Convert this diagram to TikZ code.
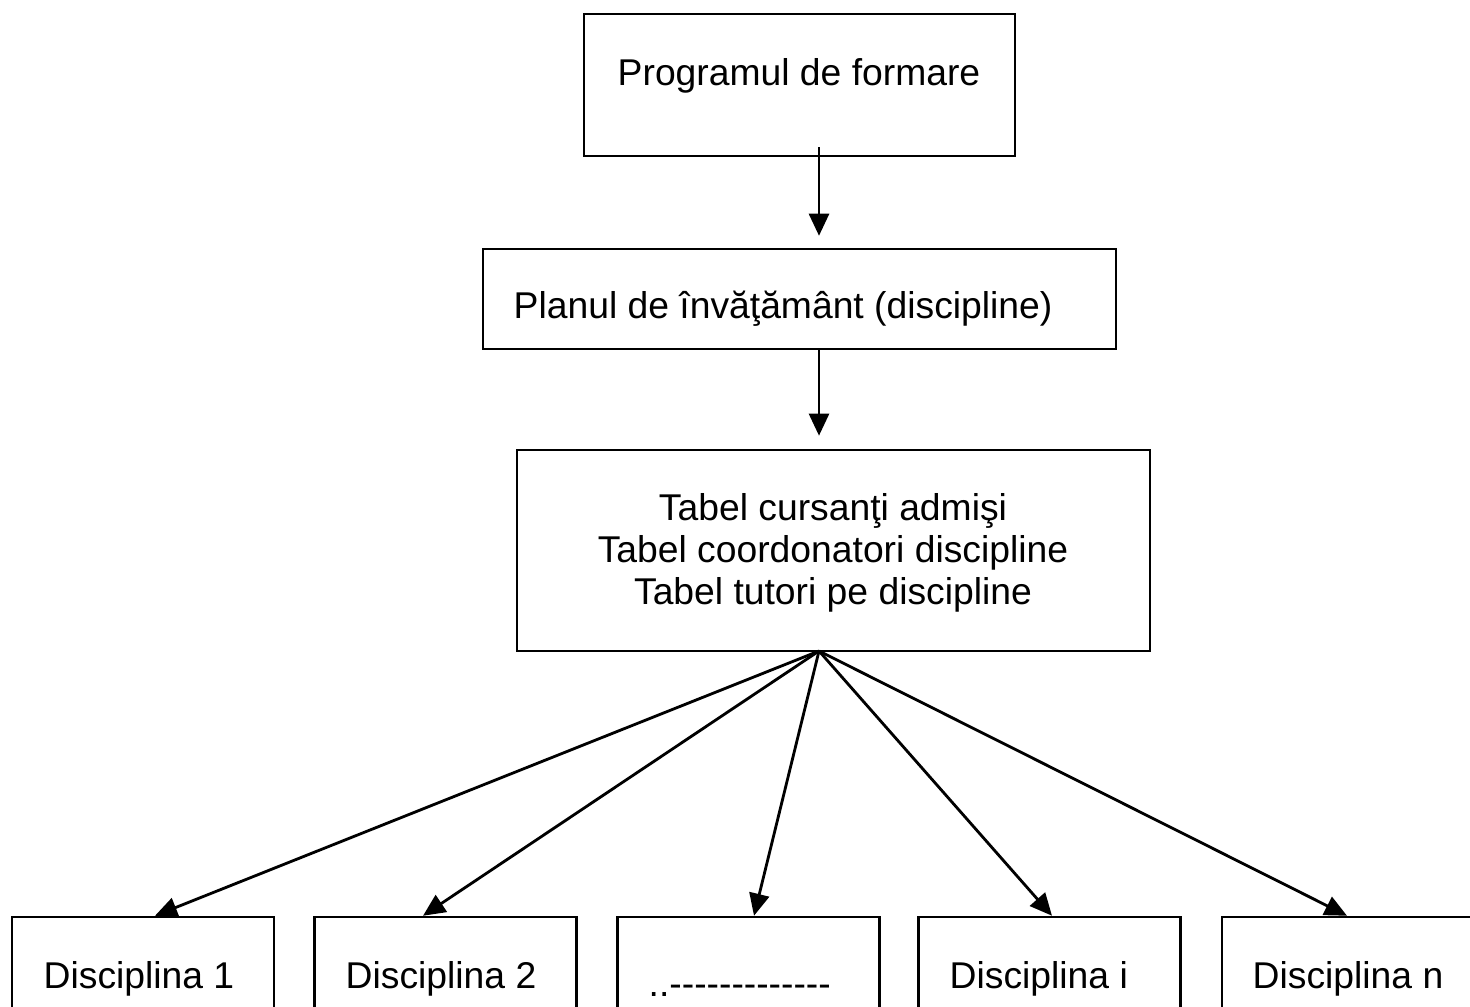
\documentclass[tikz,border=0pt]{standalone}
\usepackage{fontspec}
\setmainfont{Liberation Sans}
\usetikzlibrary{arrows.meta}

\begin{document}
\begin{tikzpicture}[x=0.01cm, y=-0.01cm,
    box/.style={draw, line width=0.7pt, inner sep=0pt},
    lbl/.style={inner sep=0pt, font=\fontsize{10.6}{11.95}\selectfont},
    arr/.style={-{Triangle[length=6.3pt, width=5.7pt]}, line width=0.8pt}]
    \useasboundingbox (0, 0) rectangle (1470, 1006);

    % top boxes
    \node[box, minimum width=4.31cm, minimum height=1.42cm] (prog) at (799.5, 85) {};
    \node[lbl, anchor=base] (progtxt) at (799, 85) {Programul de formare};

    \node[box, minimum width=6.33cm, minimum height=1.00cm] (plan) at (799.5, 299) {};
    \node[lbl, anchor=base west] (plantxt) at (513, 318) {Planul de învăţământ (discipline)};

    \node[box, minimum width=6.33cm, minimum height=2.01cm] (tabel) at (833.5, 550.5) {};
    \node[lbl, align=center] (tabeltxt) at (833, 553)
        {Tabel cursanţi admişi\\Tabel coordonatori discipline\\Tabel tutori pe discipline};

    % bottom boxes
    \node[box, minimum width=2.62cm, minimum height=1.23cm] (d1) at (143, 978.5) {};
    \node[box, minimum width=2.62cm, minimum height=1.23cm] (d2) at (445.5, 978.5) {};
    \node[box, minimum width=2.62cm, minimum height=1.23cm] (d3) at (748.5, 978.5) {};
    \node[box, minimum width=2.62cm, minimum height=1.23cm] (di) at (1049.5, 978.5) {};
    \node[box, minimum width=2.62cm, minimum height=1.23cm] (dn) at (1353, 978.5) {};

    \node[lbl, anchor=base west] (d1txt) at (43, 988) {Disciplina 1};
    \node[lbl, anchor=base west] (d2txt) at (345, 988) {Disciplina 2};
    \node[lbl, anchor=base west] (d3txt) at (648, 996)
        {..\foreach \k in {1,...,13}{-\kern0pt}};
    \node[lbl, anchor=base west] (ditxt) at (949, 988) {Disciplina i};
    \node[lbl, anchor=base west] (dntxt) at (1252, 988) {Disciplina n};

    % arrows
    \coordinate (p1) at (819, 147);
    \coordinate (hub) at (819, 651);
    \draw[arr, shorten >=3.4pt] (p1) -- (p1 |- plan.north);
    \draw[arr, shorten >=3.7pt] (p1 |- plan.south) -- (p1 |- tabel.north);

    \draw[arr] (hub) -- ([xshift=0.12cm]d1.north);
    \draw[arr] (hub) -- ([xshift=-0.225cm]d2.north);
    \draw[arr] (hub) -- ([xshift=0.055cm]d3.north);
    \draw[arr] (hub) -- ([xshift=0.025cm]di.north);
    \draw[arr] (hub) -- ([xshift=-0.06cm]dn.north);
\end{tikzpicture}
\end{document}
